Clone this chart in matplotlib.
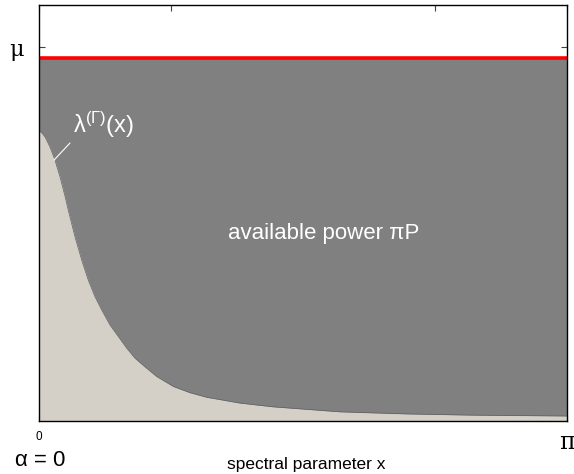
import numpy as np
import matplotlib
matplotlib.use("Agg")
import matplotlib.pyplot as plt

plt.rcParams['font.family'] = ['Liberation Sans', 'DejaVu Sans']
plt.rcParams['mathtext.fontset'] = 'custom'
plt.rcParams['mathtext.rm'] = 'Liberation Sans'
plt.rcParams['mathtext.it'] = 'Liberation Sans'
plt.rcParams['mathtext.default'] = 'regular'

# spectral parameter samples on [0, pi] and the eigenvalue curve lambda^(Gamma)(x)
x_vals = [0.0, 0.016, 0.036, 0.065, 0.095, 0.125, 0.155, 0.174, 0.214, 0.254,
          0.293, 0.333, 0.373, 0.422, 0.472, 0.522, 0.571, 0.631, 0.700, 0.799,
          0.898, 0.998, 1.196, 1.394, 1.593, 1.791, 2.188, 2.584, 3.1416]
lam_vals = [0.698, 0.693, 0.683, 0.659, 0.627, 0.587, 0.540, 0.507, 0.443, 0.387,
            0.339, 0.299, 0.267, 0.231, 0.203, 0.175, 0.151, 0.130, 0.107, 0.083,
            0.068, 0.057, 0.043, 0.034, 0.028, 0.022, 0.017, 0.014, 0.012]

mu_level = 0.873      # water level (red line)
mu_tick = 0.899       # position of the mu tick
y_max = 1.0

fig = plt.figure(figsize=(5.74, 4.74), dpi=100)
ax = fig.add_axes([39/574, 53/474, 528/574, 416/474])

x = np.array(x_vals)
lam = np.array(lam_vals)

ax.fill_between(x, 0, lam, color='#d4d0c8', linewidth=0, zorder=3)
ax.fill_between(x, lam, mu_level, color='#808080', linewidth=0, zorder=3)
ax.plot(x, lam, color='#606060', linewidth=0.5, zorder=3.5)
ax.plot([x[0], x[-1]], [mu_level, mu_level], color='#ff0000', linewidth=2.6,
        solid_capstyle='butt', zorder=4)

ax.set_xlim(0, np.pi)
ax.set_ylim(0, y_max)

ax.set_xticks([0, np.pi/4, 3*np.pi/4, np.pi])
ax.set_xticklabels(['0', '', '', 'π'])
ax.set_yticks([mu_tick])
ax.set_yticklabels(['μ'])
ax.tick_params(axis='both', direction='in', length=4, width=0.8, color='#404040',
               top=True, right=True)
ax.tick_params(axis='x', pad=7)
ax.tick_params(axis='y', pad=11)
labels = ax.get_xticklabels()
labels[0].set_fontsize(8.5)
labels[-1].set_fontsize(17)
labels[-1].set_family(['DejaVu Serif'])
for t in ax.get_yticklabels():
    t.set_fontsize(16)
    t.set_family(['DejaVu Serif'])

for s in ax.spines.values():
    s.set_zorder(5)
    s.set_linewidth(1.0)

ax.text(0.54, 0.45, 'available power πP', transform=ax.transAxes, color='white',
        fontsize=16, ha='center', va='center', zorder=6)

ax.annotate('λ$^{(Γ)}$(x)', xy=(0.089, 0.627), xytext=(0.20, 0.675),
            textcoords='data', color='white', fontsize=17,
            ha='left', va='bottom', zorder=6,
            arrowprops=dict(arrowstyle='-', color='white', lw=0.8,
                            relpos=(0, 0), shrinkA=0, shrinkB=0))

fig.text(15/574, 1 - 460/474, 'α = 0', fontsize=16, ha='left', va='center')
fig.text(306/574, 1 - 464/474, 'spectral parameter x', fontsize=12.5,
         ha='center', va='center')

fig.savefig('out.png', dpi=100)
